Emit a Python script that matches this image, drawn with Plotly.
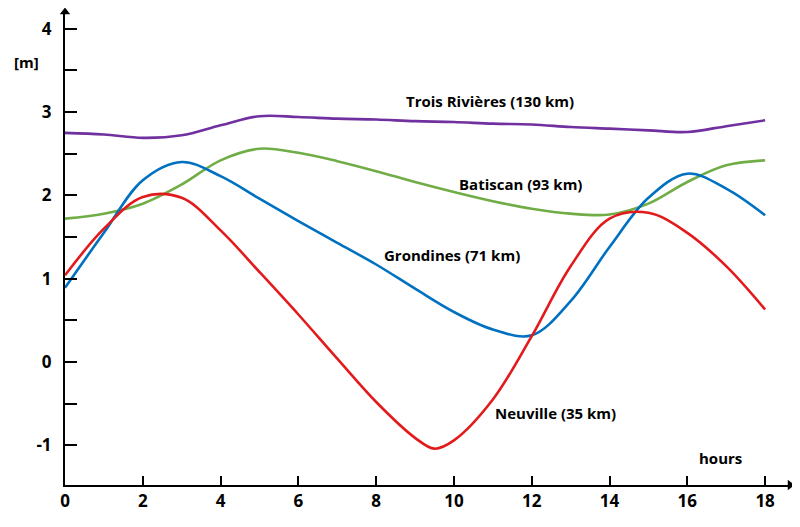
import plotly.graph_objects as go

hours = [0, 1, 2, 3, 4, 5, 6, 7, 8, 9, 10, 11, 12, 13, 14, 15, 16, 17, 18]
trois_rivieres = [2.75, 2.73, 2.69, 2.72, 2.84, 2.95, 2.94, 2.92, 2.91, 2.89, 2.88, 2.86, 2.85, 2.82, 2.80, 2.78, 2.76, 2.83, 2.90]
batiscan = [1.72, 1.78, 1.90, 2.13, 2.42, 2.56, 2.51, 2.41, 2.29, 2.16, 2.04, 1.93, 1.84, 1.78, 1.77, 1.90, 2.16, 2.36, 2.42]
grondines = [0.89, 1.55, 2.18, 2.40, 2.23, 1.96, 1.69, 1.43, 1.17, 0.88, 0.60, 0.39, 0.32, 0.73, 1.38, 1.97, 2.26, 2.08, 1.76]

hours_neu = [0, 1, 2, 3, 4, 5, 6, 7, 8, 9, 9.5, 10, 11, 12, 13, 14, 15, 16, 17, 18]
neuville = [1.04, 1.60, 1.98, 1.97, 1.58, 1.08, 0.57, 0.04, -0.48, -0.91, -1.04, -0.94, -0.45, 0.31, 1.15, 1.72, 1.79, 1.55, 1.15, 0.63]

x_ticks = [0, 2, 4, 6, 8, 10, 12, 14, 16, 18]
y_ticks = [-1, -0.5, 0, 0.5, 1, 1.5, 2, 2.5, 3, 3.5, 4]
y_labels = ["<b>-1</b>", "", "<b>0</b>", "", "<b>1</b>", "", "<b>2</b>", "", "<b>3</b>", "", "<b>4</b>"]

X_MAX = 18.64
Y_MIN = -1.476
Y_MAX = 4.20

fig = go.Figure()
series = [
    (hours, trois_rivieres, "#7030A0"),
    (hours, batiscan, "#70AD47"),
    (hours, grondines, "#0070C0"),
    (hours_neu, neuville, "#E31A1C"),
]
for xs, ys, c in series:
    fig.add_trace(go.Scatter(x=xs, y=ys, mode="lines",
                             line=dict(color=c, width=2.6, shape="spline", smoothing=1.0),
                             hoverinfo="skip", showlegend=False, cliponaxis=False))

# axis arrowheads
fig.add_trace(go.Scatter(x=[X_MAX], y=[Y_MIN], mode="markers",
                         marker=dict(symbol="triangle-right", size=9, color="black"),
                         cliponaxis=False, showlegend=False, hoverinfo="skip"))
fig.add_trace(go.Scatter(x=[0], y=[Y_MAX], mode="markers",
                         marker=dict(symbol="triangle-up", size=9, color="black"),
                         cliponaxis=False, showlegend=False, hoverinfo="skip"))

W, H = 800, 527
OFF = 8  # page offset of the figure in the browser
L, R, T, B = 57, 18, 4, 50

font_family = "Open Sans, Liberation Sans, sans-serif"
labels = [
    (490, 101, "Trois Rivières (130 km)"),
    (520, 184, "Batiscan (93 km)"),
    (452, 255, "Grondines (71 km)"),
    (555, 413, "Neuville (35 km)"),
    (720, 458, "hours"),
    (26, 62, "[m]"),
]
for px, py, t in labels:
    fx, fy = px - OFF, py - OFF
    fig.add_annotation(x=(fx - L) / (W - L - R), y=1 - (fy - T) / (H - T - B),
                       xref="paper", yref="paper",
                       text="<b>" + t + "</b>", showarrow=False,
                       font=dict(size=15, color="black", family=font_family),
                       xanchor="center", yanchor="middle")

fig.update_layout(
    width=W, height=H,
    margin=dict(l=L, r=R, t=T, b=B, autoexpand=False),
    plot_bgcolor="white", paper_bgcolor="white",
    font=dict(family=font_family, size=17, color="black"),
    xaxis=dict(range=[0, X_MAX], showgrid=False, zeroline=False, showline=True, automargin=False,
               linecolor="black", linewidth=2, ticks="inside", ticklen=9, tickwidth=2,
               tickcolor="black", tickvals=x_ticks,
               ticktext=["<b>%d</b>" % v for v in x_ticks],
               tickfont=dict(size=17, family=font_family)),
    yaxis=dict(range=[Y_MIN, Y_MAX], showgrid=False, zeroline=False, showline=True, automargin=False,
               linecolor="black", linewidth=2, ticks="inside", ticklen=12, tickwidth=2,
               tickcolor="black", tickvals=y_ticks, ticktext=y_labels,
               tickfont=dict(size=17, family=font_family), ticklabelstandoff=8),
)

fig.write_html("out.html")
